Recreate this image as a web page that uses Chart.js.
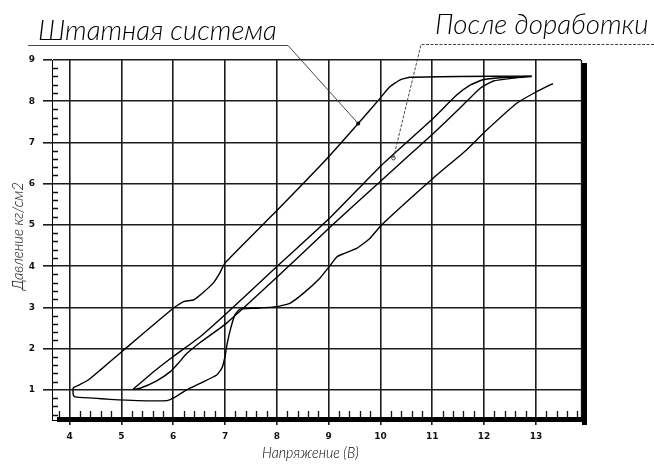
<!DOCTYPE html>
<html>
<head>
<meta charset="utf-8">
<script src="https://cdn.jsdelivr.net/npm/chart.js@4.4.1/dist/chart.umd.min.js"></script>
<style>
  body { margin: 0; background: #fff; }
  #wrap { position: relative; width: 654px; height: 464px; background: #fff; overflow: hidden; }
  canvas { position: absolute; left: 0; top: 0; }
  .lbl { position: absolute; white-space: nowrap; font-family: Lato, "DejaVu Sans", sans-serif; font-style: italic; font-weight: 300; color: #000; line-height: 1; transform-origin: left top; }
</style>
</head>
<body>
<div id="wrap">
  <canvas id="chart" width="654" height="464"></canvas>
  <div class="lbl" id="stdTitle" style="left:38px; top:15px; font-size:28px;">Штатная система</div>
  <div class="lbl" id="modTitle" style="left:435px; top:9px; font-size:28px;">После доработки</div>
  <div class="lbl" id="xTitle" style="left:262px; top:445px; font-size:15px;">Напряжение (В)</div>
  <div class="lbl" id="yTitle" style="left:17px; top:236px; font-size:16px; transform-origin: center center;">Давление кг/см2</div>
</div>
<script>
// Tick labels
const xTicks = [4, 5, 6, 7, 8, 9, 10, 11, 12, 13];
const yTicks = [1, 2, 3, 4, 5, 6, 7, 8, 9];

// Штатная система: lower branch (right to left), then upper branch
const stdV = [13.33, 13.01, 12.63, 12.05, 11.66, 11.02, 10.02, 9.80, 9.54, 9.28, 9.16, 9.03, 8.83, 8.51, 8.25, 8.00, 7.60, 7.29, 7.19, 7.10, 7.03, 7.00, 6.94, 6.84, 6.52, 6.26, 6.00, 5.88, 5.30, 4.78, 4.46, 4.10, 4.07,
              4.07, 4.20, 4.36, 4.59, 5.00, 6.00, 6.20, 6.39, 6.52, 6.77, 6.90, 7.00, 8.00, 8.96, 9.57, 9.99, 10.18, 10.38, 10.57, 11.50, 12.92];
const stdP = [8.43, 8.23, 7.95, 7.30, 6.82, 6.14, 5.00, 4.68, 4.43, 4.30, 4.23, 4.02, 3.71, 3.34, 3.10, 3.02, 2.98, 2.96, 2.82, 2.45, 2.05, 1.81, 1.53, 1.36, 1.16, 1.00, 0.80, 0.74, 0.74, 0.77, 0.80, 0.83, 0.88,
              1.05, 1.13, 1.24, 1.48, 1.92, 2.98, 3.14, 3.18, 3.30, 3.59, 3.84, 4.08, 5.35, 6.60, 7.46, 8.07, 8.35, 8.52, 8.58, 8.60, 8.61];

// После доработки: upper line (right to left), then lower line
const modV = [12.92, 12.31, 11.98, 11.73, 11.47, 11.02, 10.02, 9.03, 8.00, 7.03, 6.52, 6.00, 5.62, 5.36, 5.23,
              5.36, 5.68, 5.95, 6.10, 6.26, 6.52, 7.03, 8.00, 9.03, 9.99, 11.02, 11.53, 11.92, 12.18, 12.56, 12.92];
const modP = [8.61, 8.57, 8.52, 8.39, 8.15, 7.59, 6.45, 5.18, 3.99, 2.86, 2.29, 1.81, 1.44, 1.16, 1.02,
              1.04, 1.22, 1.45, 1.65, 1.88, 2.15, 2.62, 3.73, 4.95, 6.05, 7.22, 7.83, 8.31, 8.49, 8.56, 8.60];

// leader targets on curves
const stdMark = { x: 9.57, y: 7.46 };
const modMark = { x: 10.25, y: 6.62 };

const pts = (vs, ps) => vs.map((v, i) => ({ x: v, y: ps[i] }));

// Frame, minor ticks and leader lines
const decor = {
    id: 'decor',
    afterDraw(chart) {
        const { ctx, chartArea: a, scales: { x, y } } = chart;
        ctx.save();
        ctx.strokeStyle = '#111';
        ctx.fillStyle = '#000';
        ctx.lineWidth = 1.3;

        // minor ticks every 0.2
        ctx.beginPath();
        for (let i = 19; i <= 69; i++) {
            if (i % 5 === 0) continue;
            const px = Math.round(x.getPixelForValue(i / 5)) + 0.5;
            ctx.moveTo(px, a.bottom);
            ctx.lineTo(px, a.bottom - 9);
        }
        for (let i = 2; i <= 44; i++) {
            if (i % 5 === 0) continue;
            const py = Math.round(y.getPixelForValue(i / 5)) + 0.5;
            ctx.moveTo(a.left, py);
            ctx.lineTo(a.left + 6, py);
        }
        ctx.stroke();

        // right thin border, thick bottom and right bars
        ctx.beginPath();
        ctx.moveTo(a.right + 0.5, a.top);
        ctx.lineTo(a.right + 0.5, a.bottom);
        ctx.stroke();
        ctx.fillRect(a.left + 5, a.bottom - 3, a.right - a.left + 1, 5);
        ctx.fillRect(a.right + 1, a.top + 3, 5, a.bottom - a.top + 2);

        // leader lines
        ctx.lineWidth = 0.9;
        ctx.strokeStyle = '#333';
        const sx = x.getPixelForValue(stdMark.x), sy = y.getPixelForValue(stdMark.y);
        ctx.beginPath();
        ctx.moveTo(28, 45.5);
        ctx.lineTo(288, 45.5);
        ctx.lineTo(sx, sy);
        ctx.stroke();
        ctx.beginPath();
        ctx.arc(sx, sy, 2, 0, Math.PI * 2);
        ctx.fill();

        const mx = x.getPixelForValue(modMark.x), my = y.getPixelForValue(modMark.y);
        ctx.beginPath();
        ctx.moveTo(654, 44.5);
        ctx.lineTo(421, 44.5);
        ctx.setLineDash([3, 1.5]);
        ctx.lineTo(mx, my);
        ctx.stroke();
        ctx.setLineDash([]);
        ctx.beginPath();
        ctx.arc(mx, my, 1.8, 0, Math.PI * 2);
        ctx.stroke();
        ctx.restore();
    }
};

const gridStyle = { color: '#1c1c1c', lineWidth: 1.6 };
const tickFont = { family: '"DejaVu Sans", sans-serif', size: 9, weight: 'bold' };

new Chart(document.getElementById('chart'), {
    type: 'scatter',
    data: {
        datasets: [
            { label: 'Штатная система', data: pts(stdV, stdP), showLine: true, borderColor: '#000', borderWidth: 1.4, tension: 0.15, pointRadius: 0 },
            { label: 'После доработки', data: pts(modV, modP), showLine: true, borderColor: '#000', borderWidth: 1.4, tension: 0.15, pointRadius: 0 }
        ]
    },
    options: {
        responsive: false,
        animation: false,
        devicePixelRatio: 1,
        layout: { padding: { top: 60, right: 73, left: 0, bottom: 0 } },
        plugins: { legend: { display: false }, tooltip: { enabled: false } },
        scales: {
            x: {
                type: 'linear', min: 3.66, max: 13.87,
                afterBuildTicks: s => { s.ticks = xTicks.map(v => ({ value: v })); },
                afterFit: s => { s.height = 44; },
                grid: { ...gridStyle, tickLength: 5 },
                border: { display: true, color: '#000', width: 1 },
                ticks: { color: '#111', font: tickFont, padding: 6, maxRotation: 0 }
            },
            y: {
                type: 'linear', min: 0.27, max: 9,
                afterBuildTicks: s => { s.ticks = yTicks.map(v => ({ value: v })); },
                afterFit: s => { s.width = 52; },
                grid: { ...gridStyle, tickLength: 9 },
                border: { display: true, color: '#000', width: 1 },
                ticks: { color: '#111', font: tickFont, padding: 8 }
            }
        }
    },
    plugins: [decor]
});

// stretch titles to the widths seen in the drawing
function fit(id, w, extra) {
    const el = document.getElementById(id);
    const k = w / el.offsetWidth;
    el.style.transform = (extra || '') + ' scaleX(' + k + ')';
}
fit('stdTitle', 239);
fit('modTitle', 213);
fit('xTitle', 97);
fit('yTitle', 108, 'translate(-50%, -50%) rotate(-90deg)');
</script>
</body>
</html>
